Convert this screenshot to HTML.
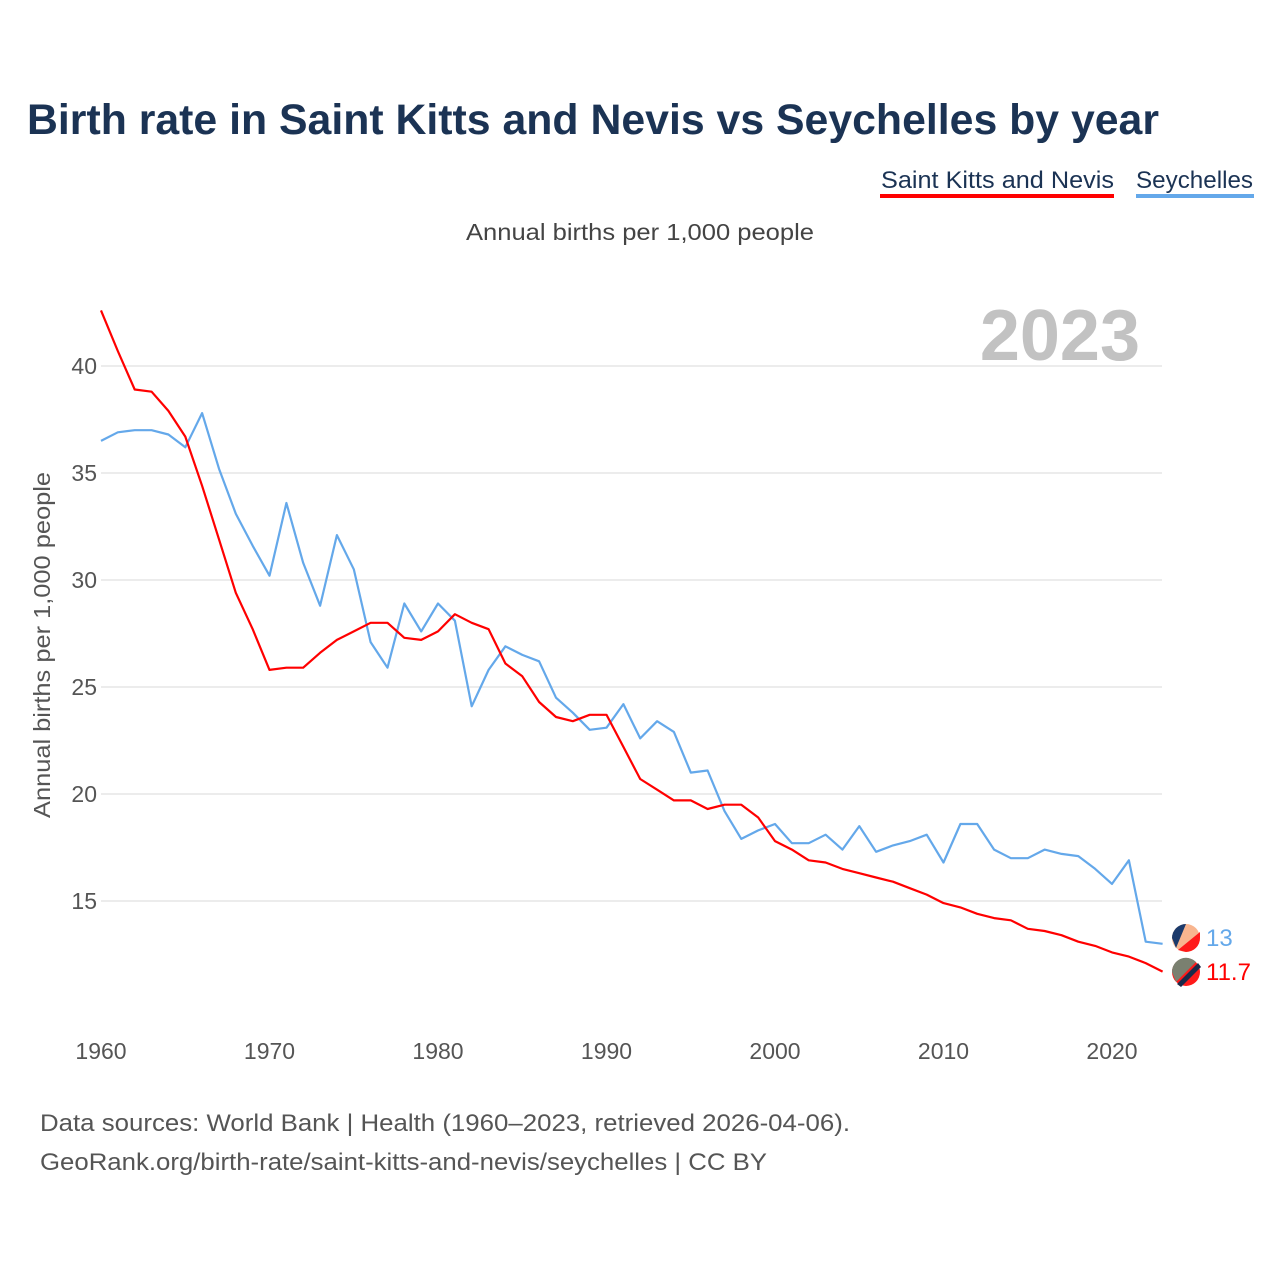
<!DOCTYPE html>
<html><head><meta charset="utf-8"><style>
body{margin:0;background:#fff;}
svg{display:block;font-family:"Liberation Sans",sans-serif;}
</style></head><body>
<svg id="chart" width="1280" height="1280" viewBox="0 0 1280 1280">
<text x="27" y="134" font-size="43" font-weight="bold" fill="#1b3354" textLength="1132" lengthAdjust="spacingAndGlyphs">Birth rate in Saint Kitts and Nevis vs Seychelles by year</text>
<g>
<text x="881" y="188" font-size="24" fill="#1b3354" textLength="233" lengthAdjust="spacingAndGlyphs">Saint Kitts and Nevis</text>
<rect x="880" y="194" width="234" height="4" fill="#ff0000"/>
</g>
<g>
<text x="1136" y="188" font-size="24" fill="#1b3354" textLength="117" lengthAdjust="spacingAndGlyphs">Seychelles</text>
<rect x="1136" y="194" width="118" height="4" fill="#64a8ea"/>
</g>
<text x="466" y="240" font-size="23" fill="#444" textLength="348" lengthAdjust="spacingAndGlyphs">Annual births per 1,000 people</text>
<text x="1140" y="360" font-size="72" font-weight="bold" fill="#c2c2c2" text-anchor="end">2023</text>
<text transform="translate(50,645) rotate(-90)" font-size="23" fill="#555" text-anchor="middle" textLength="346" lengthAdjust="spacingAndGlyphs">Annual births per 1,000 people</text>
<g id="grid"></g><g id="yticks"></g><g id="xticks"></g><g id="lines"></g>
<g>
<circle cx="1186" cy="938" r="14" fill="#f8b58f"/>
<path d="M1172 938 A14 14 0 0 1 1186 924 L1176 948 Z" fill="#1b3a6b"/>
<path d="M1200 938 A14 14 0 0 1 1186 952 L1178 950 L1200 932 Z" fill="#ff1a1a"/>
<circle cx="1186" cy="972" r="14" fill="#ff1a1a"/>
<path d="M1172 972 A14 14 0 0 1 1196 962 L1176 982 Z" fill="#7a8070"/>
<path d="M1177 984 L1198 963 L1201 967 L1181 987 Z" fill="#1b2a4a"/>
<text x="1206" y="946" font-size="24" fill="#64a8ea">13</text>
<text x="1206" y="980" font-size="24" fill="#ff0000">11.7</text>
</g>
<text x="40" y="1131" font-size="24" fill="#555" textLength="810" lengthAdjust="spacingAndGlyphs">Data sources: World Bank | Health (1960–2023, retrieved 2026-04-06).</text>
<text x="40" y="1170" font-size="24" fill="#555" textLength="727" lengthAdjust="spacingAndGlyphs">GeoRank.org/birth-rate/saint-kitts-and-nevis/seychelles | CC BY</text>
</svg>
<script>
const startYear = 1960;
const kittsValues = [42.6,40.7,38.9,38.8,37.9,36.7,34.4,31.9,29.4,27.7,25.8,25.9,25.9,26.6,27.2,27.6,28.0,28.0,27.3,27.2,27.6,28.4,28.0,27.7,26.1,25.5,24.3,23.6,23.4,23.7,23.7,22.2,20.7,20.2,19.7,19.7,19.3,19.5,19.5,18.9,17.8,17.4,16.9,16.8,16.5,16.3,16.1,15.9,15.6,15.3,14.9,14.7,14.4,14.2,14.1,13.7,13.6,13.4,13.1,12.9,12.6,12.4,12.1,11.7];
const seychellesValues = [36.5,36.9,37.0,37.0,36.8,36.2,37.8,35.2,33.1,31.6,30.2,33.6,30.8,28.8,32.1,30.5,27.1,25.9,28.9,27.6,28.9,28.1,24.1,25.8,26.9,26.5,26.2,24.5,23.8,23.0,23.1,24.2,22.6,23.4,22.9,21.0,21.1,19.2,17.9,18.3,18.6,17.7,17.7,18.1,17.4,18.5,17.3,17.6,17.8,18.1,16.8,18.6,18.6,17.4,17.0,17.0,17.4,17.2,17.1,16.5,15.8,16.9,13.1,13.0];
const yTicks = [15,20,25,30,35,40];
const xTicks = [1960,1970,1980,1990,2000,2010,2020];
const NS='http://www.w3.org/2000/svg';
function xs(yr){return 101+(yr-1960)*(1011/60);}
function ys(v){return 366+(40-v)*21.4;}
function mk(tag,attrs,parent){const e=document.createElementNS(NS,tag);for(const k in attrs)e.setAttribute(k,attrs[k]);parent.appendChild(e);return e;}
const grid=document.getElementById('grid'),yt=document.getElementById('yticks'),xt=document.getElementById('xticks'),lines=document.getElementById('lines');
yTicks.forEach(v=>{
  const l=mk('line',{x1:101,x2:1162,y1:ys(v),y2:ys(v),stroke:'#e6e6e6','stroke-width':1.5},grid);
  
  
  const t=mk('text',{x:97,y:ys(v)+8,'font-size':23,fill:'#555','text-anchor':'end'},yt);
  t.textContent=v;
  
  
});
xTicks.forEach(yr=>{
  const t=mk('text',{x:xs(yr),y:1059,'font-size':23,fill:'#555','text-anchor':'middle'},xt);
  t.textContent=yr;
  
  
});
function pathFor(vals){return vals.map((v,i)=>(i?'L':'M')+xs(startYear+i).toFixed(1)+' '+ys(v).toFixed(1)).join(' ');}
const ps=mk('path',{d:pathFor(seychellesValues),fill:'none',stroke:'#64a8ea','stroke-width':2.2,'stroke-linejoin':'round'},lines);


const pk=mk('path',{d:pathFor(kittsValues),fill:'none',stroke:'#ff0000','stroke-width':2.2,'stroke-linejoin':'round'},lines);


</script>
</body></html>
